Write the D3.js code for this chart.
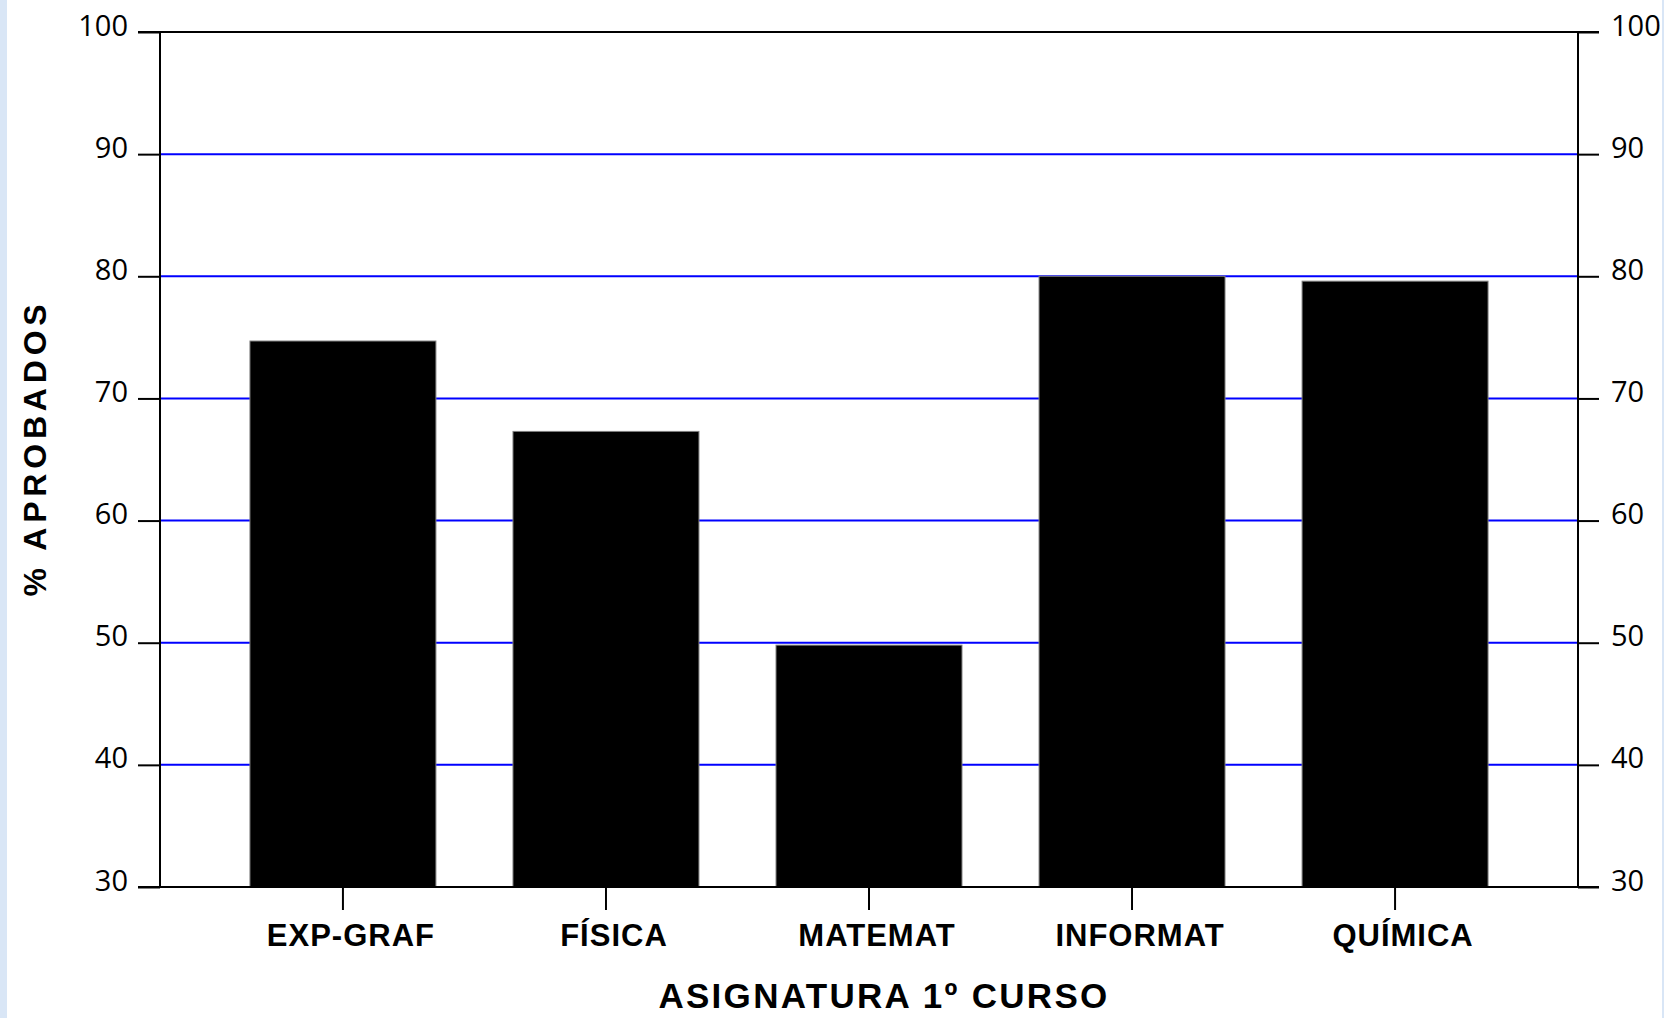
<!DOCTYPE html>
<html>
<head>
<meta charset="utf-8">
<script src="https://cdn.jsdelivr.net/npm/d3@7/dist/d3.min.js"></script>
<style>
  html, body { margin: 0; padding: 0; background: #ffffff; }
  svg { display: block; }
</style>
</head>
<body>
<svg id="chart" width="1664" height="1018"></svg>
<script>
// Pass rate per first-year subject
const subjects = ["EXP-GRAF", "FÍSICA", "MATEMAT", "INFORMAT", "QUÍMICA"];
const approved = [74.7, 67.3, 49.8, 80.0, 79.6];
const yTicks = [30, 40, 50, 60, 70, 80, 90, 100];
const gridValues = [40, 50, 60, 70, 80, 90];
const xTitle = "ASIGNATURA 1º CURSO";
const yTitle = "% APROBADOS";

const W = 1664, H = 1018;
const plot = { left: 160, right: 1578, top: 32, bottom: 887 };

const svg = d3.select("#chart");

// pale blue side bands
const sideBand = svg.append("g");
sideBand.append("rect").attr("x", 0).attr("y", 0).attr("width", 7).attr("height", H).attr("fill", "#d9e6f6");
sideBand.append("rect").attr("x", 1662).attr("y", 0).attr("width", 2).attr("height", H).attr("fill", "#d9e6f6");

const x = d3.scaleBand()
  .domain(subjects)
  .range([plot.left, plot.right])
  .paddingInner(0.293)
  .paddingOuter(0.342);

const y = d3.scaleLinear()
  .domain([30, 100])
  .range([plot.bottom, plot.top]);

// horizontal grid
svg.append("g")
  .selectAll("line")
  .data(gridValues)
  .join("line")
  .attr("x1", plot.left)
  .attr("x2", plot.right)
  .attr("y1", d => y(d))
  .attr("y2", d => y(d))
  .attr("stroke", "#0000ff")
  .attr("stroke-width", 2);

// bars
svg.append("g")
  .selectAll("rect")
  .data(subjects)
  .join("rect")
  .attr("x", d => x(d))
  .attr("width", x.bandwidth())
  .attr("y", (d, i) => y(approved[i]))
  .attr("height", (d, i) => y(30) - y(approved[i]))
  .attr("fill", "#000000")
  .attr("stroke", "#7f7f7f")
  .attr("stroke-width", 1);

// frame
const frame = svg.append("g").attr("stroke", "#000").attr("stroke-width", 2).attr("fill", "none");
frame.append("line").attr("x1", plot.left - 22).attr("x2", plot.right + 21).attr("y1", y(100)).attr("y2", y(100));
frame.append("line").attr("x1", plot.left - 22).attr("x2", plot.right + 21).attr("y1", y(30)).attr("y2", y(30));
frame.append("line").attr("x1", plot.left).attr("x2", plot.left).attr("y1", y(100)).attr("y2", y(30));
frame.append("line").attr("x1", plot.right).attr("x2", plot.right).attr("y1", y(100)).attr("y2", y(30));

const tickFont = "'Open Sans', 'Noto Sans', sans-serif";

// left axis
const yLeft = svg.append("g")
  .attr("transform", `translate(${plot.left},0)`)
  .call(d3.axisLeft(y).tickValues(yTicks).tickSize(22).tickPadding(10).tickFormat(d3.format("d")));
yLeft.select(".domain").remove();
yLeft.selectAll(".tick line").attr("stroke", "#000").attr("stroke-width", 2);
yLeft.selectAll(".tick text")
  .attr("dy", null).attr("y", 3)
  .attr("fill", "#000")
  .style("font-family", tickFont).style("font-size", "29px");

// right axis
const yRight = svg.append("g")
  .attr("transform", `translate(${plot.right},0)`)
  .call(d3.axisRight(y).tickValues(yTicks).tickSize(21).tickPadding(12).tickFormat(d3.format("d")));
yRight.select(".domain").remove();
yRight.selectAll(".tick line").attr("stroke", "#000").attr("stroke-width", 2);
yRight.selectAll(".tick text")
  .attr("dy", null).attr("y", 3)
  .attr("fill", "#000")
  .style("font-family", tickFont).style("font-size", "29px");

// bottom axis
const labelFont = "'Liberation Sans', Arial, sans-serif";
const xAxis = svg.append("g")
  .attr("transform", `translate(0,${plot.bottom})`)
  .call(d3.axisBottom(x).tickSize(23).tickPadding(33));
xAxis.select(".domain").remove();
xAxis.selectAll(".tick line").attr("stroke", "#000").attr("stroke-width", 2);
xAxis.selectAll(".tick text")
  .attr("dy", null).attr("y", 59).attr("dx", 8)
  .attr("fill", "#000")
  .style("font-family", labelFont).style("font-size", "31px")
  .style("font-weight", "bold").style("letter-spacing", "1px");

// axis titles
svg.append("text")
  .attr("x", 884).attr("y", 1008)
  .attr("text-anchor", "middle")
  .style("font-family", labelFont).style("font-size", "35px")
  .style("font-weight", "bold").style("letter-spacing", "2.3px")
  .text(xTitle);

svg.append("text")
  .attr("transform", "translate(46,448) rotate(-90)")
  .attr("text-anchor", "middle")
  .style("font-family", labelFont).style("font-size", "32px")
  .style("font-weight", "bold").style("letter-spacing", "4.8px")
  .text(yTitle);
</script>
</body>
</html>
